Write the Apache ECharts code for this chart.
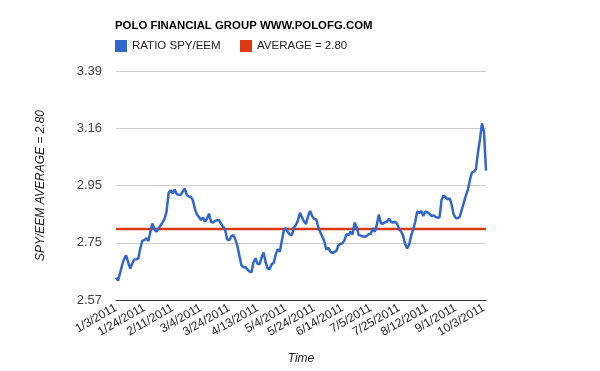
<!DOCTYPE html>
<html>
<head>
<meta charset="utf-8">
<script src="https://cdn.jsdelivr.net/npm/echarts@6/dist/echarts.min.js"></script>
<style>html,body{margin:0;padding:0;background:#fff;}#c{width:600px;height:371px;}</style>
</head>
<body>
<div id="c"></div>
<script>
const chartTitle = 'POLO FINANCIAL GROUP WWW.POLOFG.COM';
const seriesNames = ['RATIO SPY/EEM', 'AVERAGE = 2.80'];
const xTickLabels = ['1/3/2011','1/24/2011','2/11/2011','3/4/2011','3/24/2011','4/13/2011','5/4/2011','5/24/2011','6/14/2011','7/5/2011','7/25/2011','8/12/2011','9/1/2011','10/3/2011'];
const yTickValues = [2.57, 2.75, 2.95, 3.16, 3.39];
const yTickLabels = ['2.57', '2.75', '2.95', '3.16', '3.39'];
const averageValue = 2.80;
const ratio = [
2.640,2.631,2.655,2.680,2.700,2.713,2.690,2.670,2.685,2.699,
2.700,2.702,2.735,2.761,2.763,2.769,2.760,2.790,2.819,2.800,
2.791,2.802,2.812,2.822,2.835,2.860,2.925,2.935,2.924,2.937,
2.922,2.918,2.919,2.930,2.941,2.918,2.913,2.911,2.900,2.870,
2.850,2.842,2.831,2.840,2.825,2.835,2.853,2.825,2.822,2.828,
2.830,2.831,2.817,2.808,2.797,2.765,2.763,2.775,2.780,2.766,
2.745,2.712,2.681,2.674,2.674,2.667,2.660,2.658,2.690,2.703,
2.684,2.684,2.705,2.722,2.690,2.670,2.668,2.684,2.688,2.715,
2.733,2.724,2.760,2.795,2.804,2.790,2.782,2.780,2.805,2.814,
2.830,2.856,2.840,2.826,2.818,2.845,2.862,2.845,2.835,2.833,
2.808,2.790,2.775,2.760,2.732,2.738,2.725,2.720,2.724,2.727,
2.745,2.751,2.752,2.763,2.783,2.780,2.791,2.782,2.822,2.808,
2.781,2.778,2.776,2.774,2.777,2.783,2.784,2.803,2.791,2.815,
2.850,2.820,2.818,2.823,2.825,2.836,2.825,2.822,2.825,2.819,
2.800,2.792,2.778,2.750,2.735,2.748,2.778,2.800,2.825,2.860,
2.855,2.862,2.845,2.860,2.858,2.853,2.845,2.847,2.842,2.839,
2.840,2.900,2.917,2.910,2.903,2.906,2.885,2.850,2.838,2.837,
2.842,2.866,2.890,2.915,2.935,2.970,2.998,3.002,3.010,3.070,
3.120,3.182,3.150,3.005
];
const tickStep = 14;

// log-scaled value axis built from the tick values
const lo = Math.log(yTickValues[0]);
const hi = Math.log(yTickValues[yTickValues.length - 1]);
const nSteps = yTickValues.length - 1;
const toAxis = v => (Math.log(v) - lo) / (hi - lo) * nSteps;

const categories = ratio.map((_, i) => (i % tickStep === 0 ? xTickLabels[i / tickStep] : 'd' + i));
const ratioData = ratio.map(toAxis);
const avgData = [[0, toAxis(averageValue)], [ratio.length - 1, toAxis(averageValue)]];

const font = 'Arial, "Liberation Sans", sans-serif';
const chart = echarts.init(document.getElementById('c'), null, {renderer: 'canvas'});
chart.setOption({
  animation: false,
  backgroundColor: '#fff',
  title: {
    text: chartTitle, left: 115, top: 20, padding: 0,
    textStyle: {fontFamily: font, fontSize: 11.4, fontWeight: 'bold', color: '#000'}
  },
  legend: [
    {data: [seriesNames[0]], left: 115, top: 40, padding: 0, icon: 'rect', itemWidth: 12, itemHeight: 12, itemGap: 5,
     textStyle: {fontFamily: font, fontSize: 11.5, color: '#222'}},
    {data: [seriesNames[1]], left: 240, top: 40, padding: 0, icon: 'rect', itemWidth: 12, itemHeight: 12, itemGap: 5,
     textStyle: {fontFamily: font, fontSize: 11.5, color: '#222'}}
  ],
  grid: {left: 116, right: 114, top: 71, bottom: 71, containLabel: false},
  xAxis: {
    type: 'category', data: categories, boundaryGap: false,
    name: 'Time', nameLocation: 'middle', nameGap: 53,
    nameTextStyle: {fontFamily: font, fontSize: 12, fontStyle: 'italic', color: '#222'},
    axisLine: {lineStyle: {color: '#333', width: 1}},
    axisTick: {show: false},
    axisLabel: {
      interval: (idx) => idx % tickStep === 0,
      rotate: 30, margin: 7,
      fontFamily: font, fontSize: 12, color: '#222',
      formatter: (v) => v
    },
    splitLine: {show: false}
  },
  yAxis: {
    type: 'value', min: 0, max: nSteps, interval: 1,
    name: 'SPY/EEM AVERAGE = 2.80', nameLocation: 'middle', nameGap: 69, nameRotate: 90,
    nameTextStyle: {fontFamily: font, fontSize: 12, fontStyle: 'italic', color: '#222'},
    axisLine: {show: false}, axisTick: {show: false},
    axisLabel: {fontFamily: font, fontSize: 13, color: '#444', margin: 14,
      formatter: (v) => yTickLabels[Math.round(v)]},
    splitLine: {lineStyle: {color: '#ccc', width: 1}}
  },
  series: [
    {name: seriesNames[0], type: 'line', data: ratioData, showSymbol: false, smooth: false,
     lineStyle: {color: '#3366cc', width: 2.5}, itemStyle: {color: '#3366cc'}, z: 3},
    {name: seriesNames[1], type: 'line', data: avgData, showSymbol: false,
     lineStyle: {color: '#dc3912', width: 2.5}, itemStyle: {color: '#dc3912'}, z: 2}
  ]
});
</script>
</body>
</html>
